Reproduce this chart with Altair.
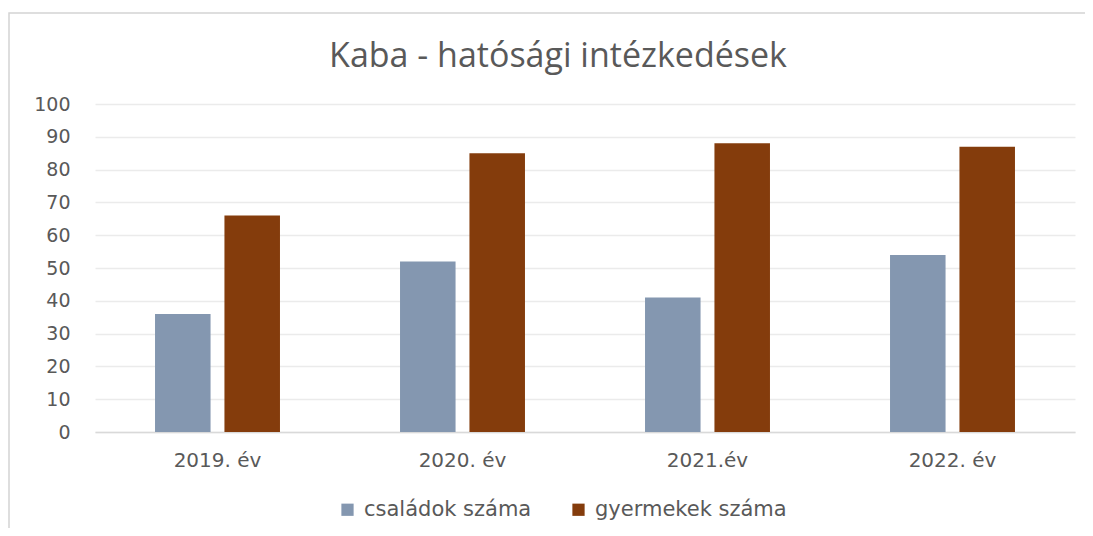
import altair as alt
import pandas as pd

years = ["2019. év", "2020. év", "2021.év", "2022. év"]
series = ["családok száma", "gyermekek száma"]
csaladok = [36, 52, 41, 54]
gyermekek = [66, 85, 88, 87]
colors = ["#8497B0", "#843C0C"]
y_ticks = list(range(0, 101, 10))

rows = []
for i, yr in enumerate(years):
    rows.append({"ev": yr, "sorozat": series[0], "ertek": csaladok[i]})
    rows.append({"ev": yr, "sorozat": series[1], "ertek": gyermekek[i]})
df = pd.DataFrame(rows)

GREY = "#595959"

frame = alt.Chart(pd.DataFrame({"f": [0]})).mark_rect(
    fill="transparent", stroke="#d4d4d4", strokeWidth=1.5
).encode(
    x=alt.value(-86), x2=alt.value(1000), y=alt.value(-91), y2=alt.value(440)
)

bars = alt.Chart(df).mark_bar().encode(
    x=alt.X(
        "ev:N", sort=years,
        scale=alt.Scale(paddingInner=0.49, paddingOuter=0.245),
        axis=alt.Axis(
            title=None, labelAngle=0, ticks=False, labelPadding=18,
            labelFont="DejaVu Sans", labelFontSize=20, labelColor=GREY,
            domainColor="#d9d9d9", domainWidth=1.5, grid=False,
        ),
    ),
    xOffset=alt.XOffset(
        "sorozat:N", sort=series,
        scale=alt.Scale(paddingInner=0.2, paddingOuter=0),
    ),
    y=alt.Y(
        "ertek:Q",
        scale=alt.Scale(domain=[0, 100], nice=False),
        axis=alt.Axis(
            title=None, values=y_ticks, domain=False, ticks=False,
            labelPadding=25, labelFont="DejaVu Sans", labelFontSize=19,
            labelColor=GREY, gridColor="#ebebeb", gridWidth=1.5,
        ),
    ),
    color=alt.Color(
        "sorozat:N", sort=series,
        scale=alt.Scale(domain=series, range=colors),
        legend=alt.Legend(
            title=None, orient="none", legendX=242, legendY=395,
            direction="horizontal", symbolType="square", symbolSize=150,
            symbolStrokeWidth=0, labelFont="DejaVu Sans", labelFontSize=21,
            labelColor=GREY, columnPadding=36, labelOffset=6, labelLimit=400,
        ),
    ),
)

chart = alt.layer(frame, bars).properties(
    width=980,
    height=328,
    autosize=alt.AutoSizeParams(type="none"),
    padding={"left": 87, "top": 96, "right": 10, "bottom": 96},
    title=alt.TitleParams(
        text="Kaba - hatósági intézkedések",
        font="Open Sans", fontSize=34, fontWeight="normal", color=GREY,
        anchor="middle", dx=-27, offset=-62,
    ),
).configure_view(stroke=None)

chart.save("out.html", embed_options={"renderer": "svg", "actions": False})
